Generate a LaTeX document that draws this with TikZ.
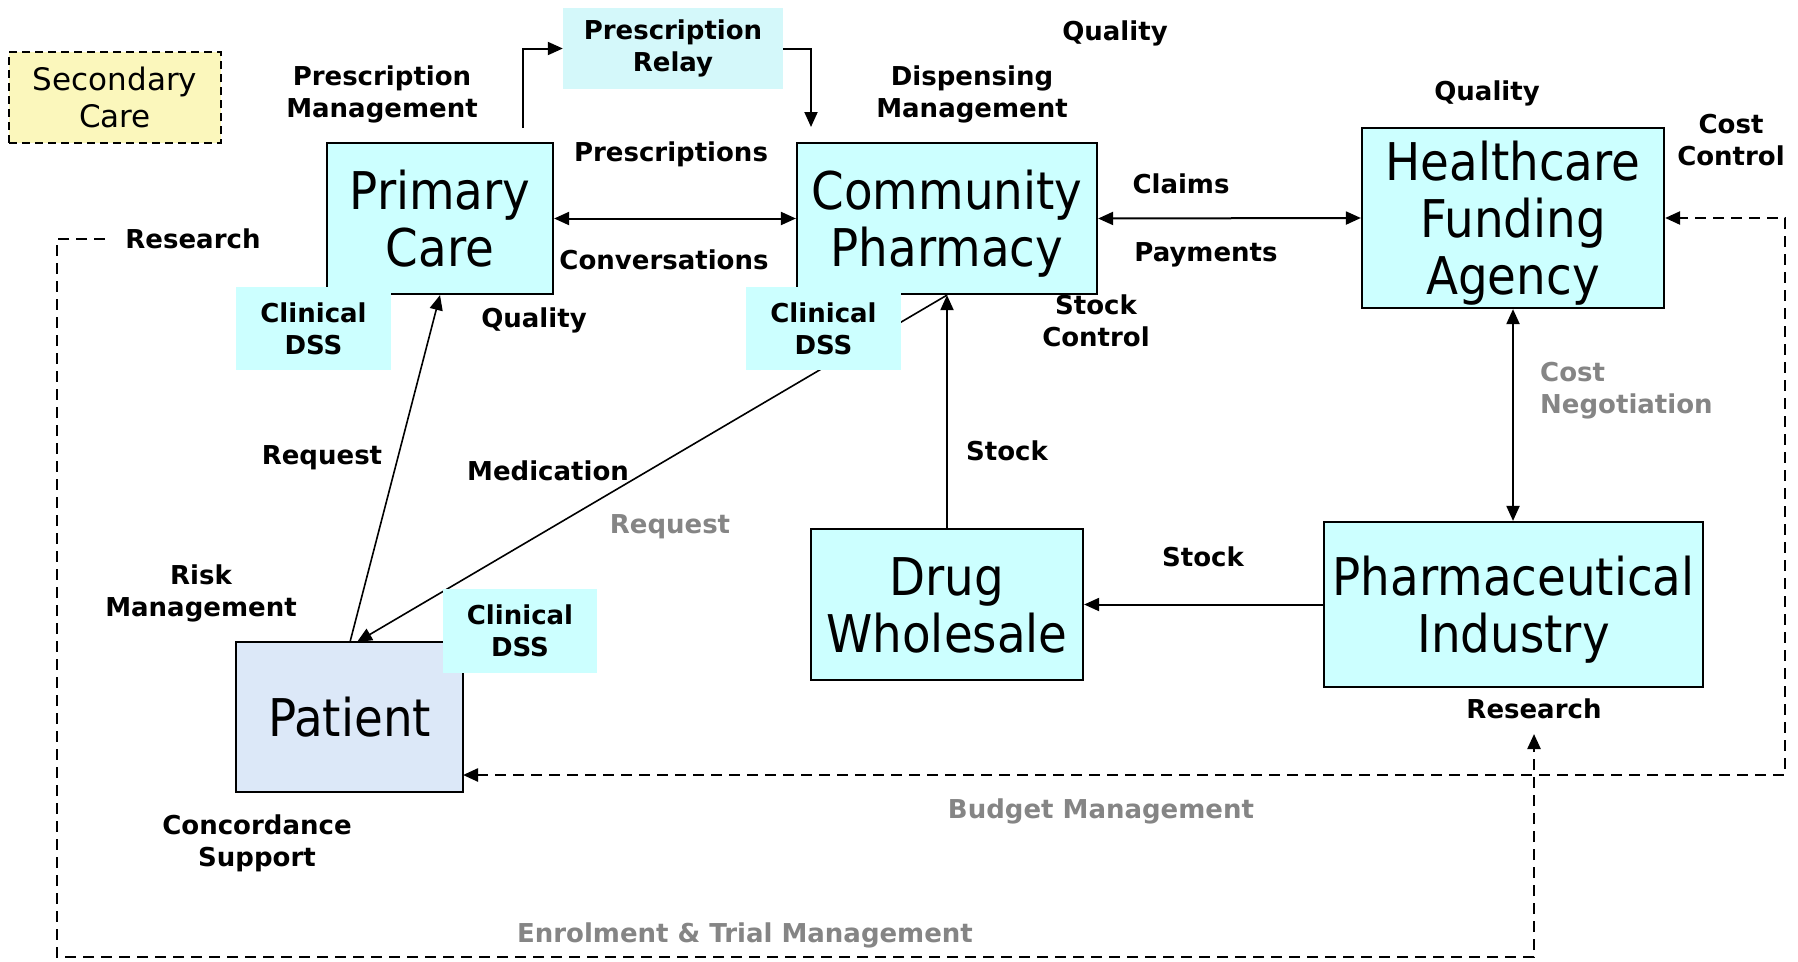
\documentclass[tikz,border=0pt]{standalone}
\usepackage{fontspec}
\setmainfont{DejaVu Sans}
\newfontfamily\boxfont[FakeStretch=0.9]{DejaVu Sans}
\usetikzlibrary{arrows.meta}
\definecolor{boxcyan}{HTML}{CCFFFF}
\definecolor{relaycyan}{HTML}{D4F8FA}
\definecolor{secyellow}{HTML}{FBF7BC}
\definecolor{patblue}{HTML}{DCE8F8}
\definecolor{lblgray}{HTML}{858585}
\begin{document}
\begin{tikzpicture}[x=1pt,y=-1pt,
  >={Triangle[length=15pt,width=13pt]},
  ent/.style={draw=black, line width=2.2pt, fill=boxcyan, inner sep=0pt, align=center,
    font=\boxfont\fontsize{52}{57}\selectfont, text depth=0pt},
  one/.style={text height=38pt},
  two/.style={text height=95pt},
  three/.style={text height=152pt},
  dss/.style={fill=boxcyan, inner sep=0pt, minimum width=155pt, minimum height=83pt, align=center,
    font=\bfseries\fontsize{26}{32}\selectfont},
  lbl/.style={inner sep=0pt, align=center, font=\bfseries\fontsize{26}{32}\selectfont},
  glbl/.style={lbl, text=lblgray},
  conn/.style={line width=2pt},
  thin conn/.style={line width=1.6pt},
  dline/.style={line width=2.4pt, dash pattern=on 11pt off 7pt}
]
\useasboundingbox (0,0) rectangle (1798,961);

% Secondary care
\node[draw=black, line width=2pt, dash pattern=on 8pt off 5pt, fill=secyellow, inner sep=0pt,
  minimum width=212pt, minimum height=91pt, align=center,
  font=\fontsize{31}{37}\selectfont] (sec) at (115,97.5) {Secondary\\Care};

% Prescription relay
\node[fill=relaycyan, inner sep=0pt, minimum width=220pt, minimum height=81pt, lbl] (relay) at (673,48.5) {Prescription\\Relay};

% Main entities
\node[ent, two, minimum width=226pt, minimum height=151pt] (pc) at (440,218.5) {Primary\\Care};
\node[ent, two, minimum width=300pt, minimum height=151pt] (cp) at (947,218.5) {Community\\Pharmacy};
\node[ent, three, minimum width=302pt, minimum height=180pt] (hfa) at (1513,218) {Healthcare\\Funding\\Agency};
\node[ent, two, minimum width=272pt, minimum height=151pt] (dw) at (947,604.5) {Drug\\Wholesale};
\node[ent, two, minimum width=379pt, minimum height=165pt] (pi) at (1513.5,604.5) {Pharmaceutical\\Industry};
\node[ent, one, fill=patblue, minimum width=227pt, minimum height=150pt] (pat) at (349.5,717) {Patient};

% helper coordinates
\coordinate (pmstart) at (523,128);
\coordinate (relayend) at (811,127);
\coordinate (patreq) at (350,642);
\coordinate (patmed) at (357,642);
\coordinate (resstart) at (105,239);
\coordinate (resc1) at (57,239);
\coordinate (resc2) at (57,957);
\coordinate (resc3) at (1534,957);
\coordinate (resend) at (1534,734);
\coordinate (budstart) at (463,775);
\coordinate (budc1) at (1785,775);
\coordinate (budc2) at (1785,218);

% connectors
\draw[conn,->] (pmstart) |- (relay.west);
\draw[conn,->] (relay.east) -| (relayend);
\draw[conn,<->] (pc.east) -- (cp.west);
\draw[conn,<->] (cp.east) -- (hfa.west);
\draw[conn,<->] (hfa.south) -- (hfa.south |- pi.north);
\draw[conn,->] (pi.west) -- (dw.east);
\draw[conn,->] (dw.north) -- (cp.south);
\draw[thin conn,->] (patreq) -- (pc.south);
\draw[thin conn,->] (cp.south) -- (patmed);
\draw[dline,->] (resstart) -- (resc1) -- (resc2) -- (resc3) -- (resend);
\draw[dline,<->] (budstart) -- (budc1) -- (budc2) -- (hfa.east);

% Clinical DSS boxes (on top)
\node[dss] (dss1) at (313.5,328.5) {Clinical\\DSS};
\node[dss] (dss2) at (823.5,328.5) {Clinical\\DSS};
\node[dss, minimum width=154pt, minimum height=84pt] (dss3) at (520,630.5) {Clinical\\DSS};

% labels
\node[lbl] (l1) at (382,94) {Prescription\\Management};
\node[lbl] (l2) at (1115,33) {Quality};
\node[lbl] (l3) at (972,94) {Dispensing\\Management};
\node[lbl] (l4) at (671,154) {Prescriptions};
\node[lbl] (l5) at (664,260) {Conversations};
\node[lbl] (l6) at (1181,184) {Claims};
\node[lbl] (l7) at (1206,255) {Payments};
\node[lbl] (l8) at (1487,93) {Quality};
\node[lbl] (l9) at (1731,140) {Cost\\Control};
\node[lbl] (l10) at (193,239) {Research};
\node[lbl] (l11) at (534,320) {Quality};
\node[lbl] (l12) at (1096,321) {Stock\\Control};
\node[glbl, anchor=west, align=left] (l13) at (1540,391) {Cost\\Negotiation};
\node[lbl] (l14) at (322,458) {Request};
\node[lbl] (l15) at (548,471) {Medication};
\node[glbl] (l16) at (670,527) {Request};
\node[lbl] (l17) at (1007,451) {Stock};
\node[lbl] (l18) at (1203,557) {Stock};
\node[lbl] (l19) at (201,593) {Risk\\Management};
\node[lbl] (l20) at (1534,709) {Research};
\node[glbl] (l21) at (1101,811) {Budget Management};
\node[lbl] (l22) at (257,843) {Concordance\\Support};
\node[glbl] (l23) at (745,935) {Enrolment \& Trial Management};
\end{tikzpicture}
\end{document}
